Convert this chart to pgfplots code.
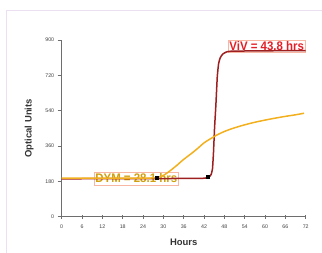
\documentclass[border=0pt]{standalone}
\usepackage{fontspec}
\setmainfont{Liberation Sans}
\newfontfamily\narrowfont{Liberation Sans}[FakeStretch=0.92]
\usepackage{pgfplots}
\pgfplotsset{compat=1.18}
\definecolor{vivred}{HTML}{9E1F1F}
\definecolor{dymyel}{HTML}{F2B01E}
\definecolor{dymtext}{HTML}{D0A010}
\definecolor{vivtext}{HTML}{E41E26}
\definecolor{boxline}{HTML}{F7B7A3}
\definecolor{frame}{HTML}{EBE0F2}
\definecolor{axgray}{HTML}{6E6E6E}
\begin{document}
\begin{tikzpicture}
\path[use as bounding box] (0,0) rectangle (322bp,253bp);
\draw[frame, line width=0.8bp] (6bp,0) -- (6bp,243bp) -- (322bp,243bp);
\begin{axis}[
  at={(61.7bp,36.3bp)}, anchor=south west,
  scale only axis, width=244bp, height=176.7bp,
  xmin=0, xmax=72, ymin=0, ymax=900,
  axis lines=left,
  axis line style={-, draw=axgray, line width=0.9bp},
  xtick={0,6,...,72}, ytick={0,180,360,540,720,900},
  tick align=outside,
  major tick length=4bp,
  xtick style={draw=axgray, line width=0.7bp, yshift=2bp},
  ytick style={draw=axgray, line width=0.7bp},
  tick label style={font=\fontsize{5.3}{6}\selectfont, text=black!75},
  /pgf/number format/assume math mode=true,
  xticklabel style={yshift=-1bp},
  xlabel={Hours}, ylabel={Optical Units},
  label style={font=\bfseries\fontsize{9.5}{11}\selectfont, text=black!80},
  xlabel style={at={(axis description cs:0.5,0)}, anchor=center, yshift=-25.5bp},
  ylabel style={at={(axis description cs:0,0.5)}, anchor=center, yshift=32.5bp},
  clip=false,
]
\node[draw=boxline, line width=0.6bp, text=dymtext, inner xsep=1.5bp, inner ysep=2bp,
  font=\narrowfont\bfseries\fontsize{12.5}{14}\selectfont] at (axis cs:22.0,195) {DYM = 28.1 hrs};
\node[draw=boxline, line width=0.6bp, text=vivtext, inner xsep=1bp, inner ysep=1bp,
  font=\narrowfont\bfseries\fontsize{12.5}{14}\selectfont] at (axis cs:60.5,868) {ViV = 43.8 hrs};
\addplot[vivred, line width=1.5bp, smooth, tension=0.3] coordinates {
(0,193) (20,194) (40,195) (42.5,197) (43.5,203) (44.1,215) (44.5,245) (44.8,330) (45.1,450) (45.5,570) (45.9,710) (46.3,780) (46.8,810) (47.5,828) (48.5,838) (50,843) (60,845) (72,846)};
\addplot[dymyel, line width=1.5bp, smooth] coordinates {
(0,197) (10,197) (20,197) (26,197) (28,199) (30,210) (32,234) (34,262) (36,292) (38,318) (40,346) (42,376) (44,398) (46,418) (48,434) (50,447) (52,458) (54,468) (57,481) (60,492) (63,502) (66,511) (69,519) (71.5,527)};
\addplot[only marks, mark=square*, mark size=1.6bp, black] coordinates {(28.1,198) (43.1,205)};
\end{axis}
\end{tikzpicture}
\end{document}
